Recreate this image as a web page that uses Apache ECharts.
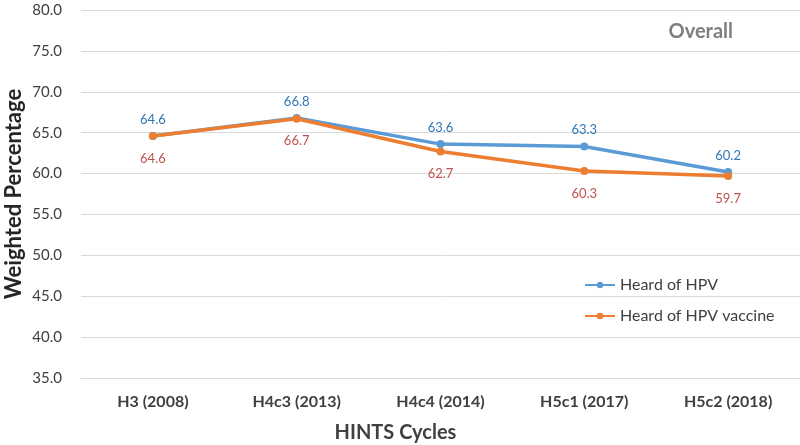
<!DOCTYPE html>
<html>
<head>
<meta charset="utf-8">
<script src="https://cdn.jsdelivr.net/npm/echarts@6/dist/echarts.min.js"></script>
<style>
  html, body {margin: 0; padding: 0; background: #fff;}
  #chart {width: 800px; height: 445px;}
</style>
</head>
<body>
<div id="chart"></div>
<script>
const cycles = ['H3 (2008)', 'H4c3 (2013)', 'H4c4 (2014)', 'H5c1 (2017)', 'H5c2 (2018)'];
const heardHpv = [64.6, 66.8, 63.6, 63.3, 60.2];
const heardVaccine = [64.6, 66.7, 62.7, 60.3, 59.7];
const yTicks = [35, 40, 45, 50, 55, 60, 65, 70, 75, 80];

const font = 'Lato, "Open Sans", sans-serif';
const chart = echarts.init(document.getElementById('chart'));

chart.setOption({
  animation: false,
  textStyle: {fontFamily: font},
  grid: {left: 81, right: 0, top: 10, bottom: 67, outerBoundsMode: 'none'},
  title: {
    text: 'Overall',
    right: 62,
    top: 17,
    textStyle: {fontSize: 20, fontWeight: 'bold', color: '#7f7f7f', fontFamily: font}
  },
  legend: {
    orient: 'vertical',
    left: 579,
    top: 272,
    itemWidth: 30,
    itemHeight: 8,
    itemGap: 15,
    textStyle: {fontSize: 16, color: '#404040', fontFamily: font},
    data: ['Heard of HPV', 'Heard of HPV vaccine']
  },
  xAxis: {
    type: 'category',
    data: cycles,
    name: 'HINTS Cycles',
    nameLocation: 'middle',
    nameGap: 45,
    nameMoveOverlap: false,
    nameTextStyle: {fontSize: 20, fontWeight: 'bold', color: '#404040', padding: [0, 90, 0, 0]},
    axisTick: {show: false},
    axisLine: {lineStyle: {color: '#d9d9d9'}},
    axisLabel: {fontSize: 16, fontWeight: 'bold', color: '#404040', margin: 16}
  },
  yAxis: {
    type: 'value',
    min: yTicks[0],
    max: yTicks[yTicks.length - 1],
    interval: 5,
    name: 'Weighted Percentage',
    nameLocation: 'middle',
    nameGap: 56,
    nameMoveOverlap: false,
    nameTextStyle: {fontSize: 22, fontWeight: 'bold', color: '#262626'},
    splitLine: {lineStyle: {color: '#d9d9d9'}},
    axisLabel: {
      fontSize: 15,
      color: '#404040',
      margin: 19,
      formatter: v => v.toFixed(1)
    }
  },
  series: [{
    name: 'Heard of HPV',
    type: 'line',
    data: heardHpv,
    symbol: 'circle',
    symbolSize: 8,
    color: '#5b9bd5',
    lineStyle: {width: 3.5},
    label: {
      show: true,
      position: 'top',
      distance: 6,
      fontSize: 13,
      color: '#2e75b6',
      formatter: p => p.value.toFixed(1)
    }
  }, {
    name: 'Heard of HPV vaccine',
    type: 'line',
    data: heardVaccine,
    symbol: 'circle',
    symbolSize: 8,
    color: '#ed7d31',
    lineStyle: {width: 3.5},
    label: {
      show: true,
      position: 'bottom',
      distance: 12,
      fontSize: 13,
      color: '#c0504d',
      formatter: p => p.value.toFixed(1)
    }
  }]
});
</script>
</body>
</html>
